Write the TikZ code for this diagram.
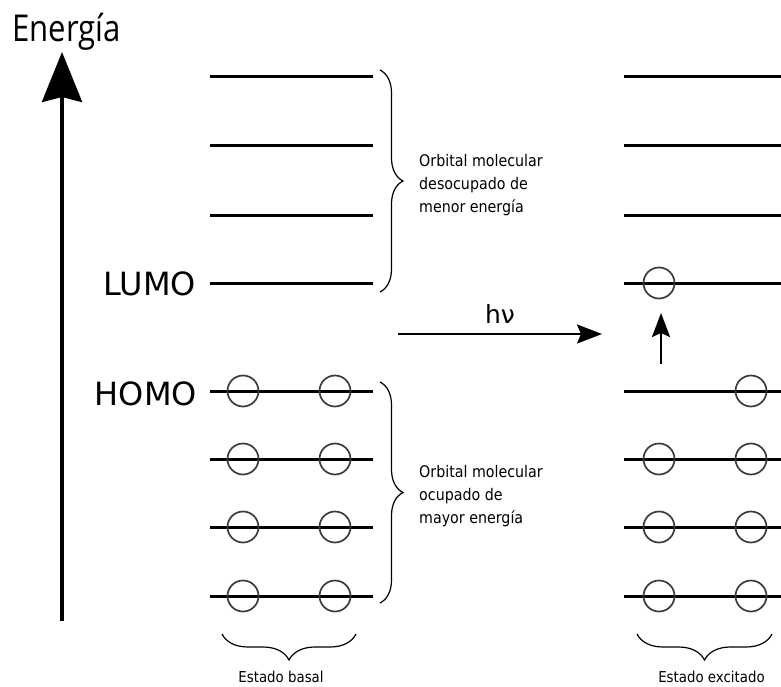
\documentclass[tikz,border=0pt]{standalone}
\usepackage{fontspec}
\setmainfont{DejaVu Sans}
\newfontfamily\narrowfont[FakeStretch=0.89]{DejaVu Sans}
\newfontfamily\titlefont[FakeStretch=0.84]{Open Sans}
\usetikzlibrary{arrows.meta,decorations.pathreplacing}
\definecolor{circgray}{HTML}{3A3A3A}
\tikzset{
  level/.style={line width=3pt, black},
  elec/.style={circle, draw=circgray, line width=1.7pt, minimum size=31pt, inner sep=0pt},
  bigaxis/.style={line width=4pt, -{Stealth[length=50pt,width=40pt,inset=5pt]}},
  thinarrow/.style={line width=2pt, -{Stealth[length=25pt,width=19pt,inset=4pt]}},
  vbrace/.style={line width=1.2pt, decorate, decoration={brace, amplitude=23pt}},
  hbrace/.style={line width=1.2pt, decorate, decoration={brace, amplitude=26pt}},
  bracetext/.style={anchor=west, inner sep=0pt, align=left, font=\narrowfont\fontsize{16}{23}\selectfont},
  statetext/.style={anchor=base, inner sep=0pt, font=\narrowfont\fontsize{15}{18}\selectfont},
  orbtext/.style={anchor=base east, inner sep=0pt, font=\fontsize{32}{36}\selectfont}
}
\begin{document}
\begin{tikzpicture}[x=1pt, y=-1pt]
\useasboundingbox (0,0) rectangle (781,687);

% energy axis
\coordinate (axb) at (62,621);
\coordinate (axt) at (62,52);
\draw[bigaxis] (axb) -- (axt);
\node[anchor=base west, inner sep=0pt, font=\titlefont\fontsize{37}{40}\selectfont] (energia) at (12,42) {Energía};

% levels
\foreach \n/\y in {1/77,2/146,3/215,4/283,5/391,6/459,7/527,8/596}{
  \coordinate (la\n) at (210,\y);
  \coordinate (lb\n) at (373,\y);
  \coordinate (ra\n) at (624,\y);
  \coordinate (rb\n) at (781,\y);
  \draw[level] (la\n) -- (lb\n);
  \draw[level] (ra\n) -- (rb\n);
}

% labels LUMO / HOMO
\node[orbtext] (lumo) at (196,295) {LUMO};
\node[orbtext] (homo) at (197,405) {HOMO};

% electrons, ground state
\foreach \n/\y in {5/391,6/459,7/527,8/596}{
  \node[elec] (gl\n) at (243,\y) {};
  \node[elec] (gr\n) at (335,\y) {};
}
% electrons, excited state
\node[elec] (el4) at (659,283) {};
\foreach \n/\y in {6/459,7/527,8/596}{
  \node[elec] (el\n) at (659,\y) {};
}
\foreach \n/\y in {5/391,6/459,7/527,8/596}{
  \node[elec] (er\n) at (751,\y) {};
}

% h nu arrow
\coordinate (hva) at (398,334);
\coordinate (hvb) at (602,334);
\draw[thinarrow] (hva) -- (hvb);
\node[anchor=base, inner sep=0pt, font=\fontsize{25}{28}\selectfont] (hv) at (500,323) {hν};

% excitation arrow
\coordinate (upa) at (661,364);
\coordinate (upb) at (661,313);
\draw[line width=2pt, -{Stealth[length=24pt,width=18pt,inset=4pt]}] (upa) -- (upb);

% braces right
\coordinate (b1t) at (380,70);
\coordinate (b1b) at (380,292);
\draw[vbrace] (b1t) -- (b1b);
\node[bracetext] (t1) at (419,185) {Orbital molecular\\desocupado de\\menor energía};

\coordinate (b2t) at (380,382);
\coordinate (b2b) at (380,603);
\draw[vbrace] (b2t) -- (b2b);
\node[bracetext] (t2) at (419,496) {Orbital molecular\\ocupado de\\mayor energía};

% braces bottom
\coordinate (b3r) at (356,634);
\coordinate (b3l) at (222,634);
\draw[hbrace] (b3r) -- (b3l);
\node[statetext] (s1) at (281,682) {Estado basal};

\coordinate (b4r) at (772,634);
\coordinate (b4l) at (637,634);
\draw[hbrace] (b4r) -- (b4l);
\node[statetext] (s2) at (711.5,682) {Estado excitado};
\end{tikzpicture}
\end{document}
